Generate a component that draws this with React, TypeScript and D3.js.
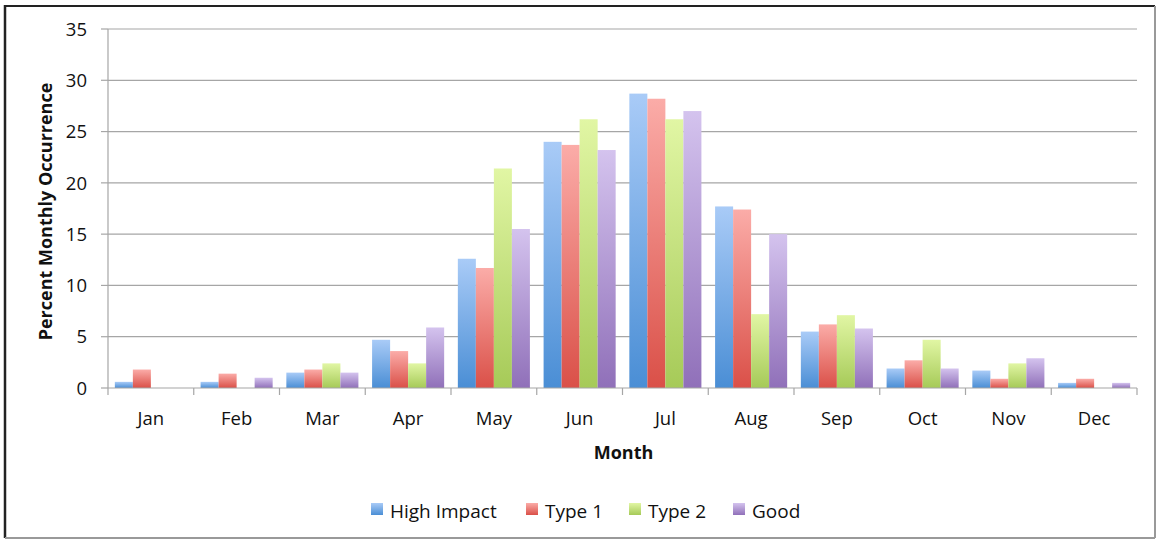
import React, { useEffect, useRef } from 'react';
import * as d3 from 'd3';

const months = ['Jan', 'Feb', 'Mar', 'Apr', 'May', 'Jun', 'Jul', 'Aug', 'Sep', 'Oct', 'Nov', 'Dec'];
const seriesNames = ['High Impact', 'Type 1', 'Type 2', 'Good'];

const highImpact = [0.6, 0.6, 1.5, 4.7, 12.6, 24.0, 28.7, 17.7, 5.5, 1.9, 1.7, 0.5];
const type1 = [1.8, 1.4, 1.8, 3.6, 11.7, 23.7, 28.2, 17.4, 6.2, 2.7, 0.9, 0.9];
const type2 = [0, 0, 2.4, 2.4, 21.4, 26.2, 26.2, 7.2, 7.1, 4.7, 2.4, 0];
const good = [0, 1.0, 1.5, 5.9, 15.5, 23.2, 27.0, 15.0, 5.8, 1.9, 2.9, 0.5];

const yTicks = [0, 5, 10, 15, 20, 25, 30, 35];

function App() {
  const ref = useRef(null);

  useEffect(() => {
    const W = 1158, H = 542;
    const margin = { top: 29, right: 21, bottom: 154, left: 108 };
    const width = W - margin.left - margin.right;
    const height = H - margin.top - margin.bottom;
    const font = '"Open Sans", Lato, sans-serif';

    const values = [highImpact, type1, type2, good];
    const colors = [
      ['#a9cbf7', '#4a8ed5'],
      ['#fbaca8', '#da5048'],
      ['#e1f6a4', '#a6ca58'],
      ['#d4c3ee', '#9070b9']
    ];

    const svg = d3.select(ref.current);
    svg.selectAll('*').remove();

    const defs = svg.append('defs');
    colors.forEach((c, i) => {
      const g = defs.append('linearGradient')
        .attr('id', 'grad' + i)
        .attr('x1', 0).attr('y1', 0).attr('x2', 0).attr('y2', 1);
      g.append('stop').attr('offset', '0%').attr('stop-color', c[0]);
      g.append('stop').attr('offset', '100%').attr('stop-color', c[1]);
    });

    // frame
    svg.append('rect').attr('x', 0).attr('y', 0).attr('width', W).attr('height', H).attr('fill', 'white');
    svg.append('line').attr('x1', 5).attr('y1', 6).attr('x2', 1155).attr('y2', 6).attr('stroke', '#222').attr('stroke-width', 2);
    svg.append('line').attr('x1', 5).attr('y1', 5).attr('x2', 5).attr('y2', 538).attr('stroke', '#222').attr('stroke-width', 2.5);
    svg.append('line').attr('x1', 1155).attr('y1', 6).attr('x2', 1155).attr('y2', 538).attr('stroke', '#999').attr('stroke-width', 2);
    svg.append('line').attr('x1', 5).attr('y1', 538).attr('x2', 1155).attr('y2', 538).attr('stroke', '#999').attr('stroke-width', 2);

    const x = d3.scaleBand().domain(months).range([0, width]);
    const x1 = d3.scaleBand().domain(seriesNames).range([0, x.bandwidth()]).paddingOuter(0.38).paddingInner(0);
    const y = d3.scaleLinear().domain([0, 35]).range([height, 0]);

    const g = svg.append('g').attr('transform', `translate(${margin.left},${margin.top})`);

    // grid
    g.selectAll('.grid').data(yTicks.slice(1)).join('line')
      .attr('x1', 0).attr('x2', width)
      .attr('y1', d => y(d)).attr('y2', d => y(d))
      .attr('stroke', '#a6a6a6').attr('stroke-width', 1.2);

    // bars
    months.forEach((m, mi) => {
      seriesNames.forEach((s, si) => {
        const v = values[si][mi];
        if (v <= 0) return;
        g.append('rect')
          .attr('x', x(m) + x1(s))
          .attr('y', y(v))
          .attr('width', x1.bandwidth())
          .attr('height', y(0) - y(v))
          .attr('fill', `url(#grad${si})`);
      });
    });

    // y axis
    g.append('line').attr('x1', 0).attr('x2', 0).attr('y1', 0).attr('y2', height).attr('stroke', '#a6a6a6').attr('stroke-width', 1.2);
    g.selectAll('.ytick').data(yTicks).join('line')
      .attr('x1', -7).attr('x2', 0)
      .attr('y1', d => y(d)).attr('y2', d => y(d))
      .attr('stroke', '#a6a6a6').attr('stroke-width', 1.2);
    g.selectAll('.ylab').data(yTicks).join('text')
      .attr('x', -21).attr('y', d => y(d)).attr('dy', '0.36em')
      .attr('text-anchor', 'end')
      .style('font-family', font).style('font-size', '18.5px').attr('fill', '#111')
      .text(d => d);

    // x axis
    g.append('line').attr('x1', 0).attr('x2', width).attr('y1', height).attr('y2', height).attr('stroke', '#a6a6a6').attr('stroke-width', 1.2);
    g.selectAll('.xtick').data(d3.range(months.length + 1)).join('line')
      .attr('x1', d => d * x.step()).attr('x2', d => d * x.step())
      .attr('y1', height).attr('y2', height + 7)
      .attr('stroke', '#a6a6a6').attr('stroke-width', 1.2);
    g.selectAll('.xlab').data(months).join('text')
      .attr('x', d => x(d) + x.bandwidth() / 2).attr('y', height + 37)
      .attr('text-anchor', 'middle')
      .style('font-family', font).style('font-size', '18.5px').attr('fill', '#111')
      .text(d => d);

    // axis titles
    svg.append('text')
      .attr('x', margin.left + width / 2 + 1).attr('y', 459)
      .attr('text-anchor', 'middle')
      .style('font-family', font).style('font-size', '18px').style('font-weight', 'bold').attr('fill', '#111')
      .text('Month');
    svg.append('text')
      .attr('transform', `translate(52,${margin.top + height / 2 + 3}) rotate(-90)`)
      .attr('text-anchor', 'middle')
      .style('font-family', font).style('font-size', '18px').style('font-weight', 'bold').attr('fill', '#111')
      .text('Percent Monthly Occurrence');

    // legend
    const legendX = [371, 526, 629, 733];
    const legend = svg.append('g');
    seriesNames.forEach((s, i) => {
      legend.append('rect')
        .attr('x', legendX[i]).attr('y', 503).attr('width', 12).attr('height', 12)
        .attr('fill', `url(#grad${i})`);
      legend.append('text')
        .attr('x', legendX[i] + 19).attr('y', 518)
        .style('font-family', font).style('font-size', '19px').attr('fill', '#111')
        .text(s);
    });
  }, []);

  return (
    <svg ref={ref} width={1158} height={542} style={{ display: 'block', position: 'absolute', left: 0, top: 0 }}></svg>
  );
}

export default App;
